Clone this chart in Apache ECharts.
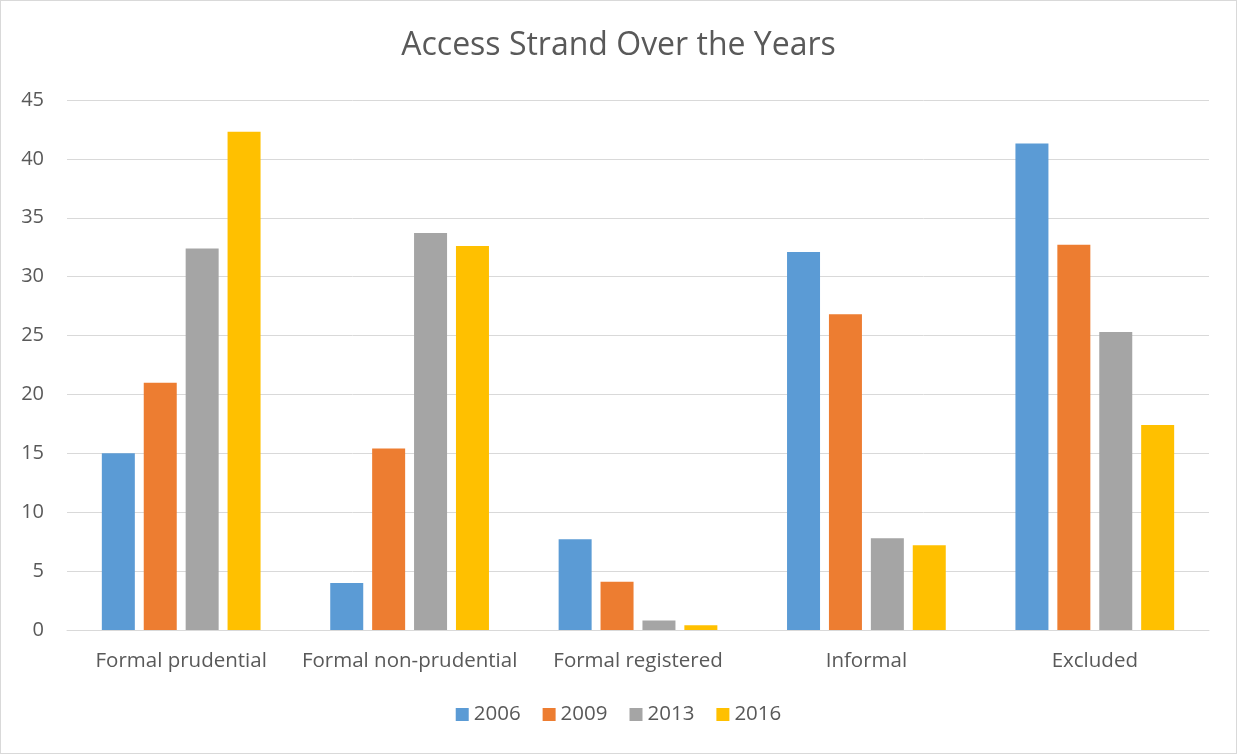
<!DOCTYPE html>
<html>
<head>
<meta charset="utf-8">
<script src="https://cdn.jsdelivr.net/npm/echarts@6/dist/echarts.min.js"></script>
<style>
  html, body { margin: 0; padding: 0; background: #fff; }
  #chart { width: 1237px; height: 754px; box-sizing: border-box; border: 1px solid #d9d9d9; }
</style>
</head>
<body>
<div id="chart"></div>
<script>
// categories and series values
const categories = ["Formal prudential", "Formal non-prudential", "Formal registered", "Informal", "Excluded"];
const years = ["2006", "2009", "2013", "2016"];
const v2006 = [15, 4, 7.7, 32.1, 41.3];
const v2009 = [21, 15.4, 4.1, 26.8, 32.7];
const v2013 = [32.4, 33.7, 0.8, 7.8, 25.3];
const v2016 = [42.3, 32.6, 0.4, 7.2, 17.4];
const colors = ["#5b9bd5", "#ed7d31", "#a5a5a5", "#ffc000"];

const chart = echarts.init(document.getElementById("chart"));
const font = "'Open Sans', sans-serif";

chart.setOption({
  animation: false,
  title: {
    text: "Access Strand Over the Years",
    left: "center",
    top: 24,
    textStyle: { fontFamily: font, fontSize: 32, fontWeight: "normal", color: "#595959" }
  },
  legend: {
    data: years,
    bottom: 23,
    left: "center",
    icon: "rect",
    itemWidth: 13,
    itemHeight: 13,
    itemGap: 22,
    itemStyle: { borderWidth: 0 },
    textStyle: { fontFamily: font, fontSize: 20.5, color: "#595959" }
  },
  grid: { left: 66, right: 27, top: 99, bottom: 123 },
  xAxis: {
    type: "category",
    data: categories,
    axisLine: { lineStyle: { color: "#d9d9d9", width: 1 } },
    axisTick: { show: false },
    axisLabel: { interval: 0, fontFamily: font, fontSize: 20.5, color: "#595959", margin: 21 }
  },
  yAxis: {
    type: "value",
    min: 0,
    max: 45,
    interval: 5,
    axisLine: { show: false },
    axisTick: { show: false },
    splitLine: { lineStyle: { color: "#d9d9d9", width: 1 } },
    axisLabel: { fontFamily: font, fontSize: 20, color: "#595959", margin: 23 }
  },
  series: [v2006, v2009, v2013, v2016].map((d, i) => ({
    name: years[i],
    type: "bar",
    data: d,
    barWidth: 33,
    barGap: "27%",
    itemStyle: { color: colors[i] }
  }))
});
</script>
</body>
</html>
